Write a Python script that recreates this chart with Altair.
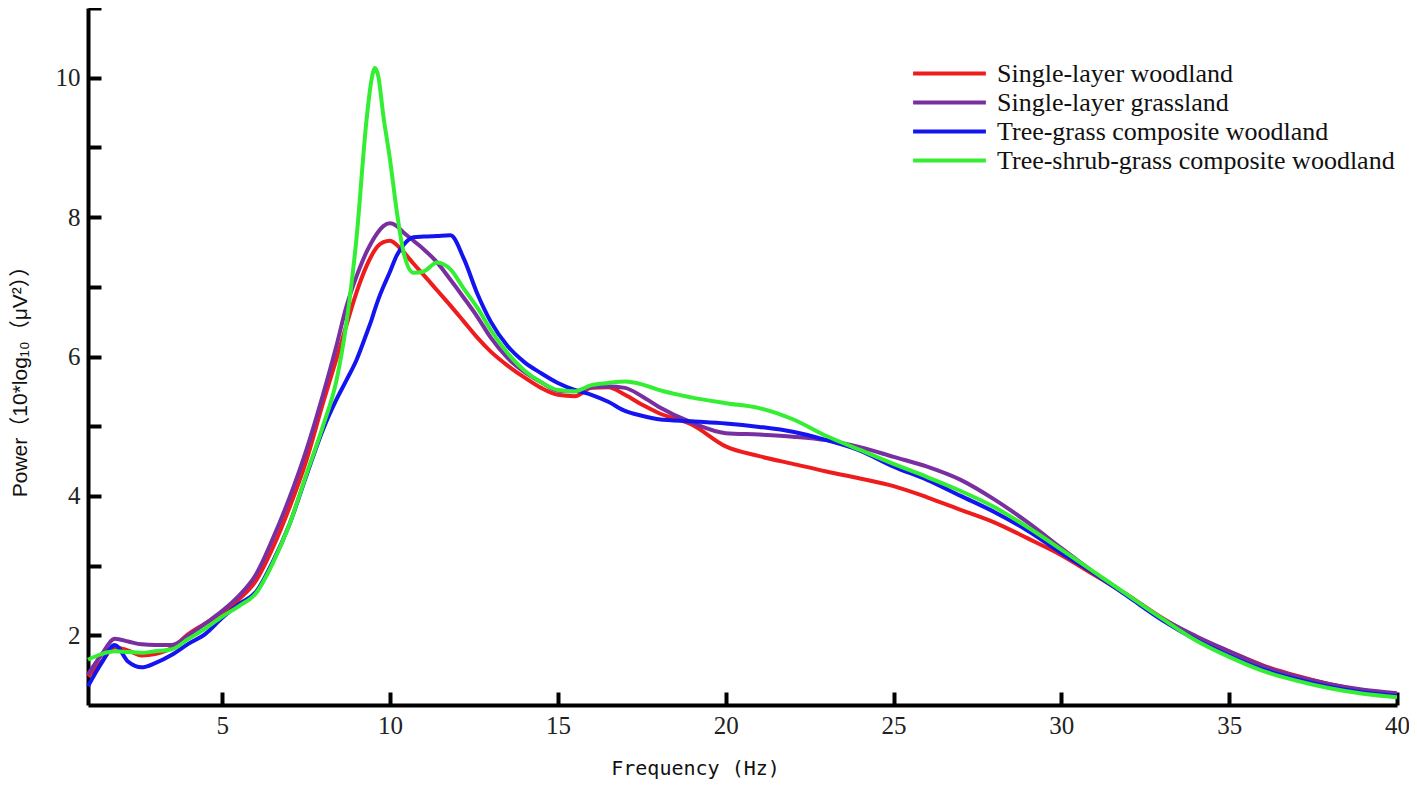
import altair as alt
import pandas as pd

freq = [1, 1.4, 1.8, 2.2, 2.6, 3, 3.5, 4, 4.5, 5, 5.5, 6, 6.5, 7, 7.5, 8, 8.4, 8.7,
        9.0, 9.3, 9.45, 9.55, 9.65, 9.8, 10.0, 10.2, 10.4, 10.7, 11.0, 11.4, 11.8,
        12.2, 12.6, 13.0, 13.5, 14, 14.5, 15, 15.5, 16, 16.5, 17, 17.5, 18, 19, 20,
        21, 22, 23, 24, 25, 26, 27, 28, 29, 30, 31, 32, 33, 34, 35, 36, 37, 38, 39, 40]

single_woodland = [1.41, 1.62, 1.83, 1.78, 1.71, 1.73, 1.82, 2.02, 2.17, 2.32, 2.52, 2.78,
                   3.25, 3.83, 4.50, 5.33, 5.96, 6.45, 6.92, 7.30, 7.45, 7.53, 7.59, 7.64,
                   7.66, 7.60, 7.50, 7.33, 7.17, 6.95, 6.73, 6.50, 6.27, 6.07, 5.87, 5.70,
                   5.55, 5.45, 5.43, 5.55, 5.56, 5.45, 5.31, 5.19, 5.02, 4.71, 4.57, 4.46,
                   4.35, 4.25, 4.14, 3.98, 3.80, 3.62, 3.39, 3.15, 2.86, 2.57, 2.25, 1.98,
                   1.77, 1.57, 1.42, 1.30, 1.21, 1.15]

single_grassland = [1.44, 1.72, 1.95, 1.91, 1.87, 1.86, 1.86, 2.00, 2.17, 2.35, 2.57, 2.87,
                    3.38, 3.97, 4.65, 5.45, 6.15, 6.72, 7.15, 7.50, 7.64, 7.72, 7.79, 7.87,
                    7.91, 7.87, 7.78, 7.66, 7.54, 7.35, 7.10, 6.84, 6.57, 6.27, 5.98, 5.78,
                    5.63, 5.51, 5.50, 5.56, 5.57, 5.55, 5.43, 5.28, 5.05, 4.90, 4.88, 4.85,
                    4.80, 4.70, 4.56, 4.42, 4.23, 3.95, 3.62, 3.25, 2.89, 2.56, 2.24, 1.99,
                    1.77, 1.56, 1.41, 1.30, 1.22, 1.17]

tree_grass = [1.27, 1.60, 1.86, 1.62, 1.54, 1.60, 1.72, 1.88, 2.02, 2.25, 2.45, 2.62,
              3.05, 3.59, 4.28, 4.95, 5.38, 5.66, 5.95, 6.33, 6.53, 6.68, 6.82, 7.00,
              7.22, 7.45, 7.60, 7.71, 7.72, 7.73, 7.74, 7.40, 6.90, 6.50, 6.15, 5.92,
              5.76, 5.62, 5.52, 5.45, 5.35, 5.22, 5.15, 5.10, 5.07, 5.04, 4.99, 4.92,
              4.80, 4.65, 4.42, 4.23, 4.00, 3.77, 3.50, 3.18, 2.88, 2.55, 2.22, 1.94,
              1.71, 1.51, 1.37, 1.26, 1.18, 1.13]

tree_shrub_grass = [1.65, 1.73, 1.77, 1.76, 1.75, 1.77, 1.80, 1.95, 2.10, 2.27, 2.42, 2.60,
                    3.03, 3.59, 4.30, 5.00, 5.65, 6.48, 7.70, 9.40, 9.98, 10.14, 10.02, 9.45,
                    8.82, 8.08, 7.50, 7.20, 7.22, 7.35, 7.25, 6.97, 6.70, 6.38, 6.05, 5.80,
                    5.63, 5.52, 5.50, 5.59, 5.62, 5.64, 5.60, 5.52, 5.41, 5.33, 5.26, 5.10,
                    4.86, 4.66, 4.46, 4.27, 4.07, 3.84, 3.55, 3.23, 2.90, 2.57, 2.24, 1.93,
                    1.69, 1.49, 1.35, 1.24, 1.16, 1.11]

series_names = ["Single-layer woodland", "Single-layer grassland",
                "Tree-grass composite woodland", "Tree-shrub-grass composite woodland"]
series_colors = ["#ee1c1c", "#7a2fa0", "#1414f0", "#33ee33"]
series_values = [single_woodland, single_grassland, tree_grass, tree_shrub_grass]

x_ticks = [5, 10, 15, 20, 25, 30, 35, 40]
y_labels = [2, 4, 6, 8, 10]
y_ticks = [2, 3, 4, 5, 6, 7, 8, 9, 10, 11]

rows = []
for name, vals in zip(series_names, series_values):
    for f, v in zip(freq, vals):
        rows.append({"freq": f, "power": v, "series": name})
df = pd.DataFrame(rows)

W, H = 1309, 697
serif = "Liberation Serif"

x_scale = alt.Scale(domain=[1, 40], nice=False, zero=False)
y_scale = alt.Scale(domain=[1, 11], nice=False, zero=False)

lines = alt.Chart(df).mark_line(strokeWidth=4, interpolate="monotone").encode(
    x=alt.X("freq:Q", scale=x_scale,
            axis=alt.Axis(orient="bottom", values=x_ticks, ticks=False, grid=False,
                          domainColor="black", domainWidth=4,
                          labelFont=serif, labelFontSize=25, labelColor="#222",
                          labelPadding=8, labelFlush=False,
                          title="Frequency (Hz)", titleFont="DejaVu Sans Mono",
                          titleFontSize=20, titleFontWeight="normal", titleColor="#111",
                          titleX=607, titleY=63, titleAnchor="start", titleAlign="center",
                          titleBaseline="middle")),
    y=alt.Y("power:Q", scale=y_scale,
            axis=alt.Axis(orient="left", values=y_labels, ticks=False, grid=False,
                          domainColor="black", domainWidth=4,
                          labelFont=serif, labelFontSize=25, labelColor="#222",
                          labelPadding=8, labelFlush=False,
                          title="Power（10*log₁₀（μV²））",
                          titleFont="Liberation Sans, Noto Sans CJK SC",
                          titleFontSize=21, titleFontWeight="normal", titleColor="#111",
                          titleX=-68, titleY=368, titleAngle=-90,
                          titleAlign="center", titleBaseline="middle")),
    color=alt.Color("series:N",
                    scale=alt.Scale(domain=series_names, range=series_colors),
                    sort=series_names,
                    legend=alt.Legend(orient="none", legendX=823, legendY=51,
                                      title=None, symbolType="stroke",
                                      symbolSize=5300, symbolStrokeWidth=4,
                                      clipHeight=29, rowPadding=0, padding=0,
                                      labelFont=serif, labelFontSize=26,
                                      labelColor="#111", labelOffset=9,
                                      labelLimit=600)),
)

tick_layer = alt.Chart(df).mark_line(opacity=0).encode(
    x=alt.X("freq:Q", scale=x_scale,
            axis=alt.Axis(orient="bottom", values=x_ticks, domain=False, labels=False,
                          grid=False, ticks=True, tickSize=13, tickWidth=4,
                          tickColor="black", offset=-13, title=None)),
    y=alt.Y("power:Q", scale=y_scale,
            axis=alt.Axis(orient="left", values=y_ticks, domain=False, labels=False,
                          grid=False, ticks=True, tickSize=13, tickWidth=4,
                          tickColor="black", offset=-13, title=None)),
    detail="series:N",
)

chart = alt.layer(tick_layer, lines).resolve_scale(
    x="independent", y="independent"
).properties(
    width=W, height=H,
    background="white",
    autosize=alt.AutoSizeParams(type="none"),
    padding={"left": 80, "top": 0, "right": 12, "bottom": 78},
).configure_view(strokeWidth=0, stroke="transparent")

chart.save("out.html", embed_options={"renderer": "svg", "actions": False})
